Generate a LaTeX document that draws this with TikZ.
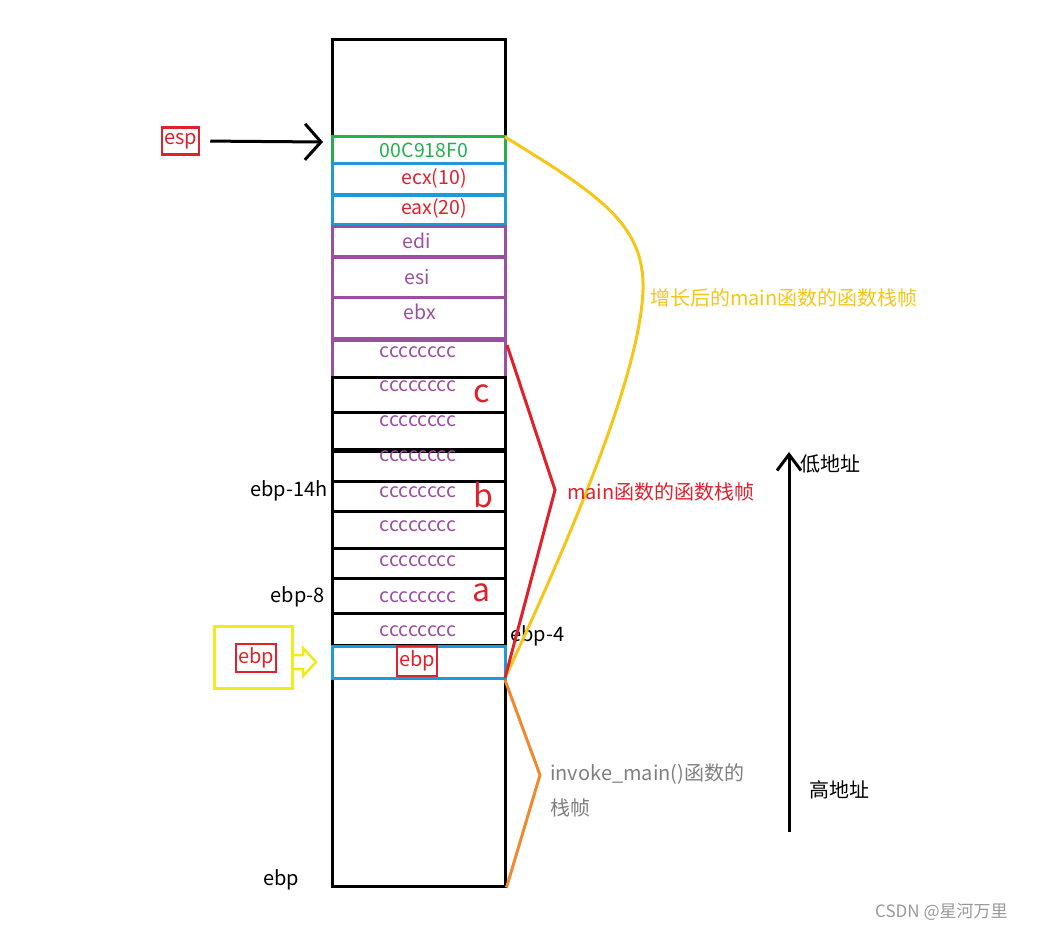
\documentclass[tikz,border=0pt]{standalone}
\usepackage{fontspec}
\setmainfont{Noto Sans CJK SC}
\usetikzlibrary{arrows.meta}
\definecolor{cgreen}{HTML}{22B14C}
\definecolor{cblue}{HTML}{1E9BD7}
\definecolor{cpurple}{HTML}{9B4FA0}
\definecolor{cred}{HTML}{E0202A}
\definecolor{cgold}{HTML}{F5C518}
\definecolor{cyel}{HTML}{F2EA1A}
\definecolor{corange}{HTML}{F08A30}
\definecolor{cgray}{HTML}{7F7F7F}
\begin{document}
\begin{tikzpicture}[x=1pt,y=-1pt,
  cell/.style={draw, line width=3pt, minimum width=173pt, inner sep=0pt, outer sep=0pt},
  txt/.style={font=\fontsize{19.5}{19.5}\selectfont, inner sep=0pt},
  lab/.style={font=\fontsize{20}{20}\selectfont, inner sep=0pt},
  big/.style={font=\fontsize{32}{32}\selectfont, inner sep=0pt, text=cred},
  redbox/.style={draw=cred, line width=2.5pt, text=cred, font=\fontsize{20}{20}\selectfont, inner sep=0pt},
  bracket/.style={line width=3pt, line join=miter}
]
\useasboundingbox (0,0) rectangle (1063,931);

% outer column
\node[draw, line width=3pt, minimum width=173pt, minimum height=846pt, inner sep=0pt] (col) at (418.5,463) {};

% top cells
\node[cell, draw=cgreen, minimum height=27pt] (r1) at (418.5,150.5) {};
\node[txt, text=cgreen] (t1) at (424,150) {00C918F0};
\node[cell, draw=cblue, minimum height=30pt] (r2) at (418.5,179) {};
\node[txt, text=cred] (t2) at (434,178) {ecx(10)};
\node[cell, draw=cblue, minimum height=29pt] (r3) at (418.5,209.5) {};
\node[txt, text=cred] (t3) at (434,208) {eax(20)};
\node[cell, draw=cpurple, minimum height=30pt] (r4) at (418.5,241) {};
\node[txt, text=cpurple] (t4) at (417,241) {edi};
\node[cell, draw=cpurple, minimum height=40pt] (r5) at (418.5,277) {};
\node[txt, text=cpurple] (t5) at (417,277) {esi};
\node[cell, draw=cpurple, minimum height=41pt] (r6) at (418.5,317.5) {};
\node[txt, text=cpurple] (t6) at (420,312) {ebx};

% cccccccc cells
\node[cell, draw=cpurple, minimum height=37pt] (c7) at (418.5,358.5) {};
\node[cell, minimum height=35pt] (c8) at (418.5,394.5) {};
\node[cell, minimum height=37pt] (c9) at (418.5,430.5) {};
\node[cell, minimum height=30pt] (c10) at (418.5,466) {};
\node[cell, minimum height=30pt] (c11) at (418.5,496) {};
\node[cell, minimum height=37pt] (c12) at (418.5,529.5) {};
\node[cell, minimum height=30pt] (c13) at (418.5,563) {};
\node[cell, minimum height=35pt] (c14) at (418.5,595.5) {};
\node[cell, minimum height=32pt] (c15) at (418.5,629) {};
\draw[line width=4pt] (c10.north west) -- (c10.north east);
\foreach \n/\y in {7/352,8/386,9/421,10/456,11/492,12/526,13/561,14/597,15/631}
  \node[txt, text=cpurple] (tc\n) at (418,\y) {cccccccc};

% ebp cell
\node[cell, draw=cblue, minimum height=32pt] (c16) at (418.5,662) {};
\node[redbox, minimum width=40pt, minimum height=30pt] (ebpin) at (417,661) {ebp};

% letters
\node[big] (lc) at (482,394) {c};
\node[big] (lb) at (483,495) {b};
\node[big] (la) at (482,593) {a};

% side labels
\node[lab, anchor=east] (l14) at (328,491) {ebp-14h};
\node[lab, anchor=east] (l8) at (325,597) {ebp-8};
\node[lab, anchor=west] (l4) at (510,636) {ebp-4};
\node[lab] (lebp) at (281,880) {ebp};

% esp
\node[redbox, minimum width=37pt, minimum height=27pt] (esp) at (180.5,141) {esp};
\coordinate (espend) at (323,142);
\draw[line width=3pt, shorten <=10pt, -{Straight Barb[length=16pt,width=36pt]}] (esp.east) -- (espend);

% yellow ebp marker
\node[draw=cyel, line width=3pt, minimum width=78pt, minimum height=62pt, inner sep=0pt] (ybox) at (253,657) {};
\node[redbox, minimum width=40pt, minimum height=28pt] (ebpout) at (256,658) {ebp};
\draw[cyel, line width=2.5pt, line join=miter] (ybox.east |- 0,655) -- (303,655) -- (303,648) -- (316,662) -- (303,676) -- (303,669) -- (ybox.east |- 0,669);

% brackets
\coordinate (ytop) at (r1.north east);
\coordinate (ybot) at (c16.south east);
\draw[cgold, line width=3pt] (ytop) .. controls (600,195) and (645,225) .. (643,290) .. controls (640,380) and (560,560) .. (ybot);
\node[lab, anchor=west, text=cgold] (ylab) at (650,298) {增长后的main函数的函数栈帧};

\coordinate (rtop) at (507,345);
\coordinate (rmid) at (555,490);
\draw[cred, bracket] (rtop) -- (rmid) -- (ybot);
\node[lab, anchor=west, text=cred] (rlab) at (567,492) {main函数的函数栈帧};

\coordinate (otop) at (505,680);
\coordinate (omid) at (540,775);
\coordinate (obot) at (col.south east);
\draw[corange, bracket] (otop) -- (omid) -- (obot);
\node[lab, anchor=west, text=cgray] (olab1) at (550,774) {invoke\_main()函数的};
\node[lab, anchor=west, text=cgray] (olab2) at (550,808) {栈帧};

% address axis
\coordinate (ab) at (789,832);
\coordinate (at) at (789,452);
\draw[line width=3pt, -{Straight Barb[length=16pt,width=24pt]}] (ab) -- (at);
\node[lab, anchor=west] (low) at (800,464) {低地址};
\node[lab, anchor=west] (high) at (809,790) {高地址};

% watermark
\node[anchor=west, text=black!40, font=\fontsize{17}{17}\selectfont, inner sep=0pt] (wm) at (875,912) {CSDN @星河万里};
\end{tikzpicture}
\end{document}
